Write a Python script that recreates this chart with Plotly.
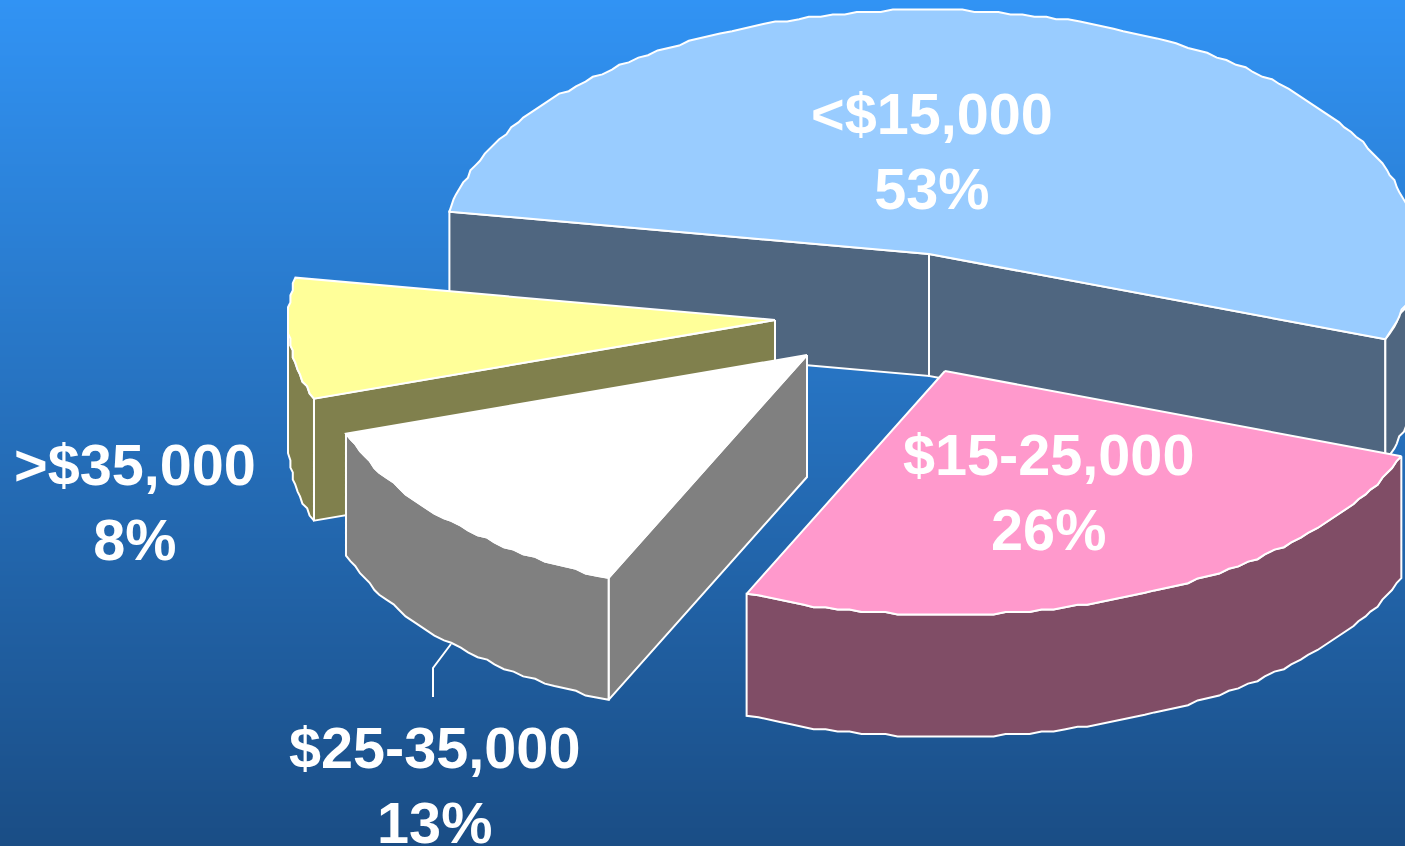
import numpy as np
import plotly.graph_objects as go

# Data
categories = ["<$15,000", "$15-25,000", "$25-35,000", ">$35,000"]
percents = [52.9, 26.0, 13.1, 8.0]

# Styling
top_colors = ["#99CCFF", "#FF99CC", "#FFFFFF", "#FFFF99"]
wall_colors = ["#4F6680", "#804D66", "#808080", "#80804D"]
explode_x = [0, 16, -122, -154]
explode_y = [0, 117, 101, 66]
label_x = [932, 1048, 434, 135]
label_y = [151, 492.5, 785, 502.5]
pie_cx, pie_cy = 929, 254
rx, ry, depth = 487, 244, 122
start_angle = 170.0
draw_order = [0, 3, 2, 1]
W, H = 1405, 846
LINE = dict(color="white", width=2)
GRID = 2.4  # the outline of the source is slightly stepped

fig = go.Figure()

# Background gradient
bg_y = np.arange(0, H + 1, 3)
fig.add_trace(go.Heatmap(x=[0, W], y=bg_y, z=[[v, v] for v in bg_y], showscale=False, hoverinfo="skip",
                         colorscale=[[0, "#3193F4"], [1, "#1A4D85"]], zsmooth="best"))

# Slice angle spans, clockwise from the start angle
ends = start_angle - np.cumsum(percents) * 3.6
starts = np.concatenate([[start_angle], ends[:-1]])


def poly(xs, ys, fill):
    fig.add_trace(go.Scatter(x=xs, y=ys, mode="lines", fill="toself", fillcolor=fill, line=LINE,
                             hoverinfo="skip", showlegend=False))


def arc(cx, cy, t1, t2):
    t = np.radians(np.linspace(t1, t2, max(2, int(abs(t1 - t2) / 1.4) + 1)))
    x, y = cx + rx * np.cos(t), cy - ry * np.sin(t)
    xr, yr = np.round(x / GRID) * GRID, np.round(y / GRID) * GRID
    xr[[0, -1]], yr[[0, -1]] = x[[0, -1]], y[[0, -1]]
    return xr, yr


for i in draw_order:
    cx, cy = pie_cx + explode_x[i], pie_cy + explode_y[i]
    t1, t2 = starts[i], ends[i]
    # radial inner walls that face the viewer
    for t in (t1, t2):
        facing = np.cos(np.radians(t)) < 0 if t == t1 else np.cos(np.radians(t)) > 0
        if facing:
            px, py = cx + rx * np.cos(np.radians(t)), cy - ry * np.sin(np.radians(t))
            poly([cx, px, px, cx, cx], [cy, py, py + depth, cy + depth, cy], wall_colors[i])
    # front part of the outer wall
    lo = max(t2, -180.0) if t1 <= 0 else t2
    hi = min(t1, 0.0)
    if t1 < -180:
        lo, hi = t2 + 360, t1 + 360
    if hi > lo:
        ax, ay = arc(cx, cy, hi, lo)
        poly(np.r_[ax, ax[::-1], ax[0]], np.r_[ay, ay[::-1] + depth, ay[0]], wall_colors[i])
    # top face
    ax, ay = arc(cx, cy, t1, t2)
    poly(np.r_[cx, ax, cx], np.r_[cy, ay, cy], top_colors[i])

# Leader line for the $25-35,000 label
fig.add_trace(go.Scatter(x=[433, 433, 451], y=[697, 668, 644], mode="lines", line=LINE,
                         hoverinfo="skip", showlegend=False))

for name, pct, lx, ly in zip(categories, percents, label_x, label_y):
    fig.add_annotation(x=lx, y=ly,
                       text=f"<b>{name.replace('<', '&lt;').replace('>', '&gt;')}<br>{round(pct)}%</b>",
                       showarrow=False, xanchor="center", yanchor="middle",
                       font=dict(family="Liberation Sans", size=57.6, color="white"))

fig.update_layout(width=W, height=H, margin=dict(l=0, r=0, t=0, b=0), showlegend=False,
                  paper_bgcolor="#1A4D85", plot_bgcolor="#1A4D85",
                  xaxis=dict(range=[0, W], visible=False, fixedrange=True),
                  yaxis=dict(range=[H, 0], visible=False, fixedrange=True))
fig.write_html("out.html", config={"displayModeBar": False},
               post_script="document.body.style.margin='0';document.body.style.overflow='hidden';")
